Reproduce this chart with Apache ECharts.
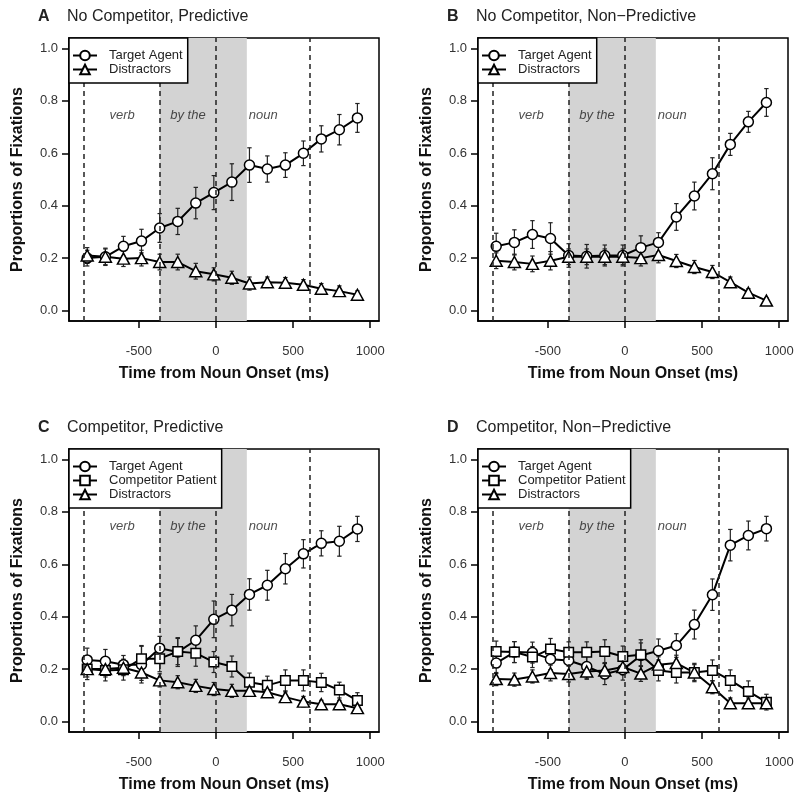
<!DOCTYPE html>
<html>
<head>
<meta charset="utf-8">
<script src="https://cdn.jsdelivr.net/npm/echarts@6/dist/echarts.min.js"></script>
<style>html,body{margin:0;padding:0;background:#fff}#c{width:800px;height:795px}</style>
</head>
<body>
<div id="c"></div>
<script>
// ---- data ----
const time = [-835, -717, -600, -483, -365, -248, -131, -14, 103, 217, 333, 450, 567, 683, 800, 917];
const regionLines = [-860, -365, 0, 605];
const shadeRange = [-365, 200];
const regionLabels = ['verb', 'by the', 'noun'];
const regionLabelX = [-608, -182, 307];
const regionLabelY = 0.745;
const xTicks = [-500, 0, 500, 1000];
const yTicks = [0, 0.2, 0.4, 0.6, 0.8, 1.0];
const panelLetters = ['A', 'B', 'C', 'D'];
const panelTitles = ['No Competitor, Predictive', 'No Competitor, Non\u2212Predictive', 'Competitor, Predictive', 'Competitor, Non\u2212Predictive'];

// Panel A
const aTarget    = [0.20, 0.205, 0.245, 0.265, 0.315, 0.34, 0.41, 0.45, 0.49, 0.555, 0.54, 0.555, 0.60, 0.655, 0.69, 0.735];
const aTargetErr = [0.03, 0.033, 0.038, 0.045, 0.055, 0.05, 0.06, 0.065, 0.07, 0.066, 0.05, 0.047, 0.047, 0.05, 0.058, 0.055];
const aDistr     = [0.21, 0.205, 0.198, 0.20, 0.185, 0.185, 0.15, 0.138, 0.125, 0.103, 0.108, 0.106, 0.098, 0.083, 0.074, 0.06];
const aDistrErr  = [0.03, 0.03, 0.03, 0.03, 0.03, 0.03, 0.03, 0.025, 0.025, 0.025, 0.02, 0.02, 0.02, 0.02, 0.02, 0.015];
// Panel B
const bTarget    = [0.245, 0.26, 0.29, 0.275, 0.21, 0.207, 0.21, 0.21, 0.24, 0.26, 0.357, 0.437, 0.522, 0.634, 0.72, 0.794];
const bTargetErr = [0.05, 0.048, 0.053, 0.06, 0.045, 0.045, 0.04, 0.04, 0.045, 0.037, 0.051, 0.053, 0.061, 0.042, 0.04, 0.053];
const bDistr     = [0.19, 0.185, 0.178, 0.19, 0.205, 0.205, 0.205, 0.205, 0.20, 0.212, 0.189, 0.166, 0.147, 0.108, 0.068, 0.038];
const bDistrErr  = [0.03, 0.03, 0.03, 0.035, 0.03, 0.03, 0.03, 0.03, 0.03, 0.03, 0.025, 0.025, 0.025, 0.02, 0.015, 0.01];
// Panel C
const cTarget    = [0.235, 0.23, 0.217, 0.217, 0.28, 0.265, 0.31, 0.39, 0.425, 0.485, 0.52, 0.583, 0.64, 0.68, 0.688, 0.735];
const cTargetErr = [0.045, 0.045, 0.035, 0.07, 0.045, 0.055, 0.055, 0.07, 0.06, 0.06, 0.057, 0.058, 0.054, 0.048, 0.057, 0.048];
const cComp      = [0.20, 0.195, 0.198, 0.24, 0.24, 0.267, 0.261, 0.227, 0.21, 0.15, 0.138, 0.157, 0.157, 0.149, 0.12, 0.08];
const cCompErr   = [0.04, 0.04, 0.04, 0.05, 0.05, 0.05, 0.05, 0.04, 0.04, 0.035, 0.035, 0.04, 0.04, 0.035, 0.03, 0.03];
const cDistr     = [0.20, 0.20, 0.205, 0.187, 0.157, 0.15, 0.136, 0.124, 0.117, 0.117, 0.112, 0.093, 0.076, 0.066, 0.066, 0.051];
const cDistrErr  = [0.03, 0.03, 0.03, 0.03, 0.025, 0.025, 0.025, 0.025, 0.025, 0.02, 0.02, 0.02, 0.02, 0.015, 0.015, 0.015];
// Panel D
const dTarget    = [0.223, 0.265, 0.263, 0.238, 0.233, 0.21, 0.181, 0.198, 0.252, 0.27, 0.29, 0.37, 0.484, 0.673, 0.71, 0.736];
const dTargetErr = [0.04, 0.04, 0.04, 0.04, 0.045, 0.045, 0.04, 0.04, 0.06, 0.045, 0.045, 0.055, 0.06, 0.06, 0.055, 0.047];
const dComp      = [0.267, 0.265, 0.246, 0.277, 0.264, 0.264, 0.267, 0.248, 0.255, 0.195, 0.187, 0.187, 0.195, 0.157, 0.115, 0.074];
const dCompErr   = [0.04, 0.04, 0.04, 0.04, 0.04, 0.04, 0.045, 0.04, 0.045, 0.04, 0.04, 0.035, 0.04, 0.04, 0.04, 0.03];
const dDistr     = [0.162, 0.16, 0.172, 0.185, 0.181, 0.191, 0.195, 0.208, 0.183, 0.217, 0.223, 0.187, 0.131, 0.07, 0.07, 0.07];
const dDistrErr  = [0.025, 0.025, 0.025, 0.03, 0.03, 0.03, 0.03, 0.03, 0.03, 0.03, 0.03, 0.03, 0.025, 0.02, 0.02, 0.02];

// ---- build ----
const FONT = '"Liberation Sans", Arial, Helvetica, sans-serif';
const grids = [
  {left: 69, top: 38, width: 310, height: 283},
  {left: 478, top: 38, width: 310, height: 283},
  {left: 69, top: 449, width: 310, height: 283},
  {left: 478, top: 449, width: 310, height: 283}
];
const panels = [
  [['Target Agent', 'circle', aTarget, aTargetErr], ['Distractors', 'triangle', aDistr, aDistrErr]],
  [['Target Agent', 'circle', bTarget, bTargetErr], ['Distractors', 'triangle', bDistr, bDistrErr]],
  [['Target Agent', 'circle', cTarget, cTargetErr], ['Competitor Patient', 'rect', cComp, cCompErr], ['Distractors', 'triangle', cDistr, cDistrErr]],
  [['Target Agent', 'circle', dTarget, dTargetErr], ['Competitor Patient', 'rect', dComp, dCompErr], ['Distractors', 'triangle', dDistr, dDistrErr]]
];
const symSize = {circle: 10, rect: 9.5, triangle: [12, 11]};

function errRender(params, api) {
  const x = api.value(0), lo = api.value(1), hi = api.value(2);
  const p1 = api.coord([x, lo]), p2 = api.coord([x, hi]);
  const w = 2.2, st = {stroke: '#222', lineWidth: 1.2};
  return {type: 'group', children: [
    {type: 'line', shape: {x1: p1[0], y1: p1[1], x2: p2[0], y2: p2[1]}, style: st},
    {type: 'line', shape: {x1: p1[0] - w, y1: p1[1], x2: p1[0] + w, y2: p1[1]}, style: st},
    {type: 'line', shape: {x1: p2[0] - w, y1: p2[1], x2: p2[0] + w, y2: p2[1]}, style: st}
  ]};
}

const option = {
  animation: false,
  backgroundColor: '#fff',
  title: [], legend: [], grid: [], xAxis: [], yAxis: [], series: []
};

grids.forEach((g, i) => {
  option.grid.push(Object.assign({show: true, borderColor: '#000', borderWidth: 1.5, backgroundColor: 'transparent', containLabel: false}, g));
  option.title.push({text: panelLetters[i], left: g.left - 36, top: g.top - 34, padding: 5, textStyle: {fontFamily: FONT, fontSize: 16, fontWeight: 'bold', color: '#222'}});
  option.title.push({text: panelTitles[i], left: g.left - 7, top: g.top - 34, padding: 5, textStyle: {fontFamily: FONT, fontSize: 16, fontWeight: 'normal', color: '#222'}});
  option.xAxis.push({
    type: 'value', gridIndex: i, min: -953, max: 1057, position: 'bottom',
    name: 'Time from Noun Onset (ms)', nameLocation: 'middle', nameGap: 45,
    nameTextStyle: {fontFamily: FONT, fontSize: 16, fontWeight: 'bold', color: '#111'},
    axisLine: {show: true, onZero: false, lineStyle: {color: '#000', width: 1.5}}, splitLine: {show: false},
    axisTick: {show: true, inside: false, length: 7, customValues: xTicks, lineStyle: {color: '#000', width: 1.5}},
    axisLabel: {customValues: xTicks, margin: 24, fontFamily: FONT, fontSize: 13, color: '#333', formatter: v => String(v)}
  });
  option.yAxis.push({
    type: 'value', gridIndex: i, min: -0.04, max: 1.04, position: 'left',
    name: 'Proportions of Fixations', nameLocation: 'middle', nameGap: 43, nameRotate: 90,
    nameTextStyle: {fontFamily: FONT, fontSize: 16, fontWeight: 'bold', color: '#111'},
    axisLine: {show: true, onZero: false, lineStyle: {color: '#000', width: 1.5}}, splitLine: {show: false},
    axisTick: {show: true, inside: false, length: 7, customValues: yTicks, lineStyle: {color: '#000', width: 1.5}},
    axisLabel: {customValues: yTicks, margin: 11, fontFamily: FONT, fontSize: 13, color: '#333', formatter: v => v.toFixed(1)}
  });
  // shading
  option.series.push({
    type: 'line', xAxisIndex: i, yAxisIndex: i, data: [], z: 1, silent: true,
    markArea: {silent: true, itemStyle: {color: '#d3d3d3', opacity: 1}, data: [[{xAxis: shadeRange[0]}, {xAxis: shadeRange[1]}]]}
  });
  // dashed lines + region labels
  option.series.push({
    type: 'scatter', xAxisIndex: i, yAxisIndex: i, z: 2, silent: true, symbolSize: 0,
    data: regionLabels.map((t, k) => ({value: [regionLabelX[k], regionLabelY], name: t})),
    label: {show: true, position: 'inside', formatter: p => p.name, fontFamily: FONT, fontSize: 13, fontStyle: 'italic', color: '#222'},
    markLine: {silent: true, symbol: ['none', 'none'], label: {show: false},
      lineStyle: {type: [5, 4], color: '#222', width: 1.5},
      data: regionLines.map(v => ({xAxis: v}))}
  });
  panels[i].forEach(s => {
    const [name, sym, vals, errs] = s;
    option.series.push({
      type: 'custom', xAxisIndex: i, yAxisIndex: i, z: 3, silent: true,
      renderItem: errRender, encode: {x: 0, y: [1, 2]},
      data: time.map((t, k) => [t, vals[k] - errs[k], vals[k] + errs[k]])
    });
  });
  panels[i].forEach(s => {
    const [name, sym, vals] = s;
    option.series.push({
      name: name, type: 'line', xAxisIndex: i, yAxisIndex: i, z: 4,
      data: time.map((t, k) => [t, vals[k]]),
      symbol: sym, symbolSize: symSize[sym], showSymbol: true,
      lineStyle: {color: '#000', width: 2},
      itemStyle: {color: '#fff', borderColor: '#000', borderWidth: 1.5}
    });
  });
  option.legend.push({
    orient: 'vertical', left: g.left, top: g.top, selectedMode: false, z: 10,
    data: panels[i].map(s => s[0]),
    backgroundColor: '#fff', borderColor: '#000', borderWidth: 1.5,
    padding: [11, 5, 7, 3], itemWidth: 24, itemHeight: 12, itemGap: 1,
    textStyle: {fontFamily: FONT, fontSize: 13, color: '#222', padding: [0, 0, 0, 7]}
  });
});

const chart = echarts.init(document.getElementById('c'), null, {renderer: 'canvas'});
chart.setOption(option);
</script>
</body>
</html>
